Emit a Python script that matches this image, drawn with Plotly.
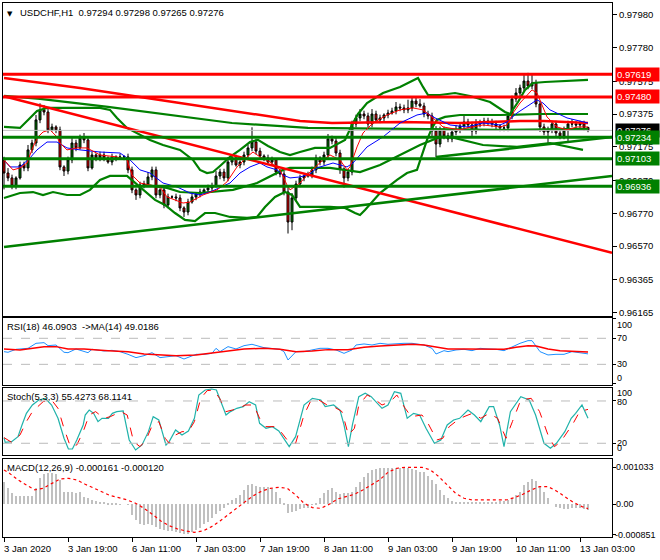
import plotly.graph_objects as go

# ---------------- price data (H1 bars, bar 0 = 3 Jan 2020 03:00) ----------------
first_open = 0.97095
closes = [
    0.97016, 0.96986, 0.96937, 0.96986, 0.97065, 0.97047, 0.97157, 0.97199, 0.97340, 0.97401,
    0.97388, 0.97279, 0.97297, 0.97279, 0.97053, 0.97028, 0.97096, 0.97199, 0.97169, 0.97230,
    0.97218, 0.97047, 0.97126, 0.97108, 0.97126, 0.97108, 0.97083, 0.97114, 0.97108, 0.97114,
    0.97114, 0.97035, 0.96913, 0.96882, 0.96943, 0.96949, 0.96992, 0.97035, 0.96882, 0.96913,
    0.96821, 0.96870, 0.96870, 0.96864, 0.96803, 0.96778, 0.96839, 0.96870, 0.96888, 0.96900,
    0.96913, 0.96925, 0.96937, 0.96998, 0.97022, 0.96986, 0.97083, 0.97108, 0.97065, 0.97083,
    0.97126, 0.97169, 0.97205, 0.97150, 0.97120, 0.97108, 0.97083, 0.97096, 0.97022, 0.97010,
    0.96900, 0.96717, 0.96864, 0.96949, 0.96986, 0.96998, 0.97004, 0.97035, 0.97108, 0.97083,
    0.97126, 0.97224, 0.97211, 0.97138, 0.97041, 0.96986, 0.97022, 0.97315, 0.97352, 0.97376,
    0.97364, 0.97315, 0.97376, 0.97340, 0.97352, 0.97370, 0.97382, 0.97394, 0.97419, 0.97413,
    0.97401, 0.97413, 0.97455, 0.97437, 0.97425, 0.97376, 0.97364, 0.97272, 0.97193, 0.97279,
    0.97242, 0.97224, 0.97266, 0.97279, 0.97303, 0.97327, 0.97309, 0.97272, 0.97315, 0.97321,
    0.97333, 0.97327, 0.97315, 0.97303, 0.97291, 0.97291, 0.97364, 0.97468, 0.97504, 0.97535,
    0.97577, 0.97547, 0.97565, 0.97437, 0.97297, 0.97266, 0.97279, 0.97315, 0.97260, 0.97242,
    0.97279, 0.97315, 0.97315, 0.97309, 0.97315, 0.97294, 0.97276,
]
upper_wick_pips = [
    2, 3, 2, 1, 2, 2, 3, 2, 3, 4,
    3, 2, 2, 1, 2, 1, 2, 3, 2, 2,
    3, 2, 2, 1, 2, 2, 1, 2, 1, 2,
    1, 2, 2, 1, 2, 2, 3, 2, 2, 1,
    2, 2, 1, 2, 2, 1, 2, 2, 1, 2,
    1, 2, 2, 3, 2, 2, 3, 2, 2, 1,
    2, 2, 9, 2, 2, 1, 2, 2, 1, 2,
    2, 3, 3, 2, 2, 1, 2, 2, 2, 1,
    2, 3, 2, 2, 2, 1, 2, 2, 2, 3,
    2, 2, 3, 2, 2, 1, 2, 2, 3, 2,
    2, 5, 2, 2, 3, 2, 2, 2, 3, 2,
    2, 2, 2, 3, 2, 4, 2, 2, 3, 2,
    2, 2, 2, 2, 1, 2, 2, 2, 3, 2,
    4, 5, 5, 2, 2, 2, 2, 2, 2, 2,
    2, 2, 3, 2, 2, 2, 0.4,
]
lower_wick_pips = [
    10, 2, 2, 2, 1, 2, 2, 2, 2, 2,
    2, 2, 1, 2, 2, 3, 2, 2, 2, 1,
    2, 2, 1, 2, 2, 2, 1, 2, 2, 1,
    2, 2, 2, 3, 2, 2, 1, 2, 2, 2,
    2, 2, 1, 2, 2, 3, 2, 1, 2, 2,
    1, 2, 2, 1, 2, 2, 2, 2, 1, 2,
    2, 2, 2, 2, 2, 2, 1, 2, 2, 2,
    2, 7, 5, 2, 2, 2, 1, 2, 2, 2,
    2, 2, 2, 2, 3, 6, 2, 2, 2, 2,
    2, 2, 2, 1, 2, 2, 2, 1, 2, 2,
    2, 2, 2, 2, 1, 2, 2, 3, 8, 2,
    2, 2, 2, 2, 2, 2, 2, 3, 2, 2,
    2, 2, 2, 2, 2, 2, 2, 2, 2, 2,
    2, 2, 2, 2, 3, 2, 7, 2, 2, 2,
    2, 8, 2, 2, 2, 2, 1.1,
]

# ---------------- main-chart indicator lines (bar index, price) ----------------
ma_slow_bars = [0, 19, 39, 56, 74, 82, 99, 114, 129, 135, 146]
ma_slow_vals = [0.97596, 0.97535, 0.97462, 0.97401, 0.97333, 0.97321, 0.97327, 0.97321, 0.97333, 0.97333, 0.97321]

band_long_bars = [0, 9, 26, 41, 57, 76, 99, 124, 146]
band_long_vals = [0.97486, 0.97468, 0.97419, 0.97370, 0.97321, 0.97291, 0.97285, 0.97279, 0.97285]

bb_up_bars = [0, 4, 6.5, 8.25, 10.75, 19, 24, 26.5, 28.25, 30.75, 34, 36.5, 39.75, 44, 47.25, 49, 50.75,
              52.25, 54, 56.5, 59, 61.5, 63.5, 66, 69, 71.5, 74, 77.75, 81.5, 85.25, 87, 88.5, 90.75,
              94.75, 99, 102.25, 103.5, 104.75, 106, 109, 112.75, 116.5, 121.5, 125.25, 126.5, 128.5,
              130.25, 132.25, 135.25, 146]
bb_up_vals = [0.97297, 0.97291, 0.97352, 0.97394, 0.97413, 0.97413, 0.97413, 0.97401, 0.97352, 0.97291,
              0.97248, 0.97218, 0.97187, 0.97157, 0.97096, 0.97035, 0.97016, 0.97022, 0.97059, 0.97114,
              0.97157, 0.97205, 0.97218, 0.97181, 0.97144, 0.97126, 0.97144, 0.97169, 0.97169, 0.97218,
              0.97309, 0.97376, 0.97443, 0.97504, 0.97541, 0.97584, 0.97596, 0.97541, 0.97492, 0.97492,
              0.97504, 0.97486, 0.97449, 0.97388, 0.97376, 0.97449, 0.97523, 0.97565, 0.97571, 0.97584]

bb_low_bars = [0, 4, 7.25, 9.75, 12.25, 15.75, 19, 21.5, 24, 26.5, 30.75, 32.75, 35.25, 37.75, 40.25,
               42.75, 45.25, 47.75, 50.25, 52.75, 56.5, 60.75, 63.25, 65.25, 67.75, 70.25, 72, 74, 81.5,
               85.25, 87.75, 89, 90.25, 94, 98.25, 100.75, 103.25, 104.5, 105.75, 107, 108.25, 110.25,
               114, 124, 134, 146]
bb_low_vals = [0.96864, 0.96894, 0.96900, 0.96882, 0.96900, 0.96882, 0.96882, 0.96913, 0.96974, 0.96998,
               0.96998, 0.96955, 0.96900, 0.96852, 0.96821, 0.96772, 0.96730, 0.96723, 0.96772, 0.96772,
               0.96748, 0.96742, 0.96748, 0.96809, 0.96870, 0.96900, 0.96882, 0.96809, 0.96809, 0.96803,
               0.96772, 0.96760, 0.96791, 0.96894, 0.96974, 0.97016, 0.97035, 0.97126, 0.97218, 0.97291,
               0.97340, 0.97358, 0.97370, 0.97370, 0.97376, 0.97376]

bb_in_bars = [35.25, 40.75, 44, 49, 57.25, 63.25, 69.75, 71.5, 81.5, 85.25, 89, 94, 99, 104, 109, 111.5,
              119.75, 128.25, 132.25, 136.5, 144.75]
bb_in_vals = [0.96943, 0.96925, 0.96900, 0.96894, 0.96913, 0.96955, 0.97035, 0.97047, 0.97047, 0.97035,
              0.97022, 0.97065, 0.97126, 0.97187, 0.97236, 0.97236, 0.97187, 0.97175, 0.97187, 0.97199,
              0.97157]

ma_fast_bars = [0, 0.75, 2.25, 4, 5.75, 7.25, 8.5, 9.75, 11.5, 13.25, 14, 15.75, 18.25, 20.75, 24, 28.25,
                30.75, 32, 34, 36.5, 39, 40.75, 44.75, 46.5, 49.75, 53.25, 55.75, 58.25, 60.75, 62.25, 64,
                66.5, 69, 70.75, 71.5, 74, 76.5, 79.75, 81.5, 84, 85.75, 86.5, 88.25, 89.75, 92.25, 95.75,
                99, 102.25, 104.75, 107.25, 109.75, 114, 115.75, 119.75, 124, 125.75, 127.25, 129, 130.75,
                132, 133.25, 134, 135.75, 138.25, 140.75, 143.25, 146]
ma_fast_vals = [0.97096, 0.97077, 0.97035, 0.97047, 0.97077, 0.97175, 0.97236, 0.97266, 0.97279, 0.97236,
                0.97199, 0.97157, 0.97169, 0.97169, 0.97126, 0.97114, 0.97096, 0.97004, 0.96955, 0.96943,
                0.96931, 0.96870, 0.96833, 0.96839, 0.96882, 0.96913, 0.96962, 0.97053, 0.97114, 0.97144,
                0.97114, 0.97083, 0.97035, 0.96943, 0.96913, 0.96955, 0.97022, 0.97096, 0.97126, 0.97096,
                0.97035, 0.97053, 0.97175, 0.97260, 0.97321, 0.97370, 0.97401, 0.97413, 0.97401, 0.97352,
                0.97297, 0.97279, 0.97291, 0.97309, 0.97297, 0.97309, 0.97382, 0.97443, 0.97492, 0.97523,
                0.97504, 0.97462, 0.97358, 0.97297, 0.97279, 0.97297, 0.97297]

ma_mid_bars = [0, 1.5, 4, 6.5, 8.25, 10.75, 13.25, 15.75, 19, 24, 29, 31.5, 34, 36.5, 39.75, 43.25, 46.5,
               49, 51.5, 54, 56.5, 59, 61.5, 64, 65.75, 68.25, 69.75, 71.5, 74, 76.5, 78.25, 82.25, 85.75,
               87.25, 90.75, 94.75, 99, 103.25, 105.75, 107.25, 111.5, 115.75, 119.75, 124, 125.75, 128.25,
               131.5, 133.25, 134.75, 136.5, 140.75, 144.75, 146]
ma_mid_vals = [0.97096, 0.97053, 0.97053, 0.97108, 0.97157, 0.97205, 0.97205, 0.97169, 0.97157, 0.97144,
               0.97138, 0.97096, 0.97035, 0.97016, 0.96955, 0.96931, 0.96894, 0.96882, 0.96900, 0.96925,
               0.96955, 0.97016, 0.97053, 0.97077, 0.97053, 0.97035, 0.97004, 0.96986, 0.96992, 0.97010,
               0.97047, 0.97077, 0.97053, 0.97077, 0.97175, 0.97236, 0.97321, 0.97370, 0.97382, 0.97358,
               0.97309, 0.97297, 0.97321, 0.97309, 0.97327, 0.97382, 0.97431, 0.97462, 0.97443, 0.97401,
               0.97352, 0.97327, 0.97321]

red_trend_bars = [0, 152]
red_trend_vals = [0.97484, 0.96529]
green_trend_bars = [0, 152]
green_trend_vals = [0.96565, 0.96998]
green_trend2_bars = [108, 152]
green_trend2_vals = [0.97113, 0.97236]

red_levels = [0.97619, 0.97480]
green_levels = [0.97234, 0.97103, 0.96936]
bid_price = 0.97276

price_ticks = [0.97980, 0.97780, 0.97575, 0.97375, 0.97175, 0.96970, 0.96770, 0.96570, 0.96365, 0.96165]

# ---------------- RSI ----------------
rsi_bars = [0, 1, 3, 6, 8, 10, 11, 13, 15, 16, 18, 19, 21, 22, 25, 27, 29, 31, 33, 35, 37, 39, 41, 43, 45,
            46, 48, 50, 52, 53, 54, 56, 58, 60, 62, 65, 67, 69, 70, 71, 73, 75, 77, 79, 81, 83, 85, 87, 88,
            90, 92, 94, 96, 98, 100, 102, 105, 107, 108, 110, 111, 113, 115, 117, 119, 121, 123, 125, 127,
            129, 131, 132, 134, 136, 138, 140, 142, 145, 146]
rsi_vals = [49.5, 48.5, 53.1, 54.6, 62.3, 63.3, 58.7, 59.7, 48.5, 47.9, 53.6, 52.1, 47.9, 53.1, 50.5, 51.5,
            49.5, 45.4, 40.3, 43.3, 47.9, 40.3, 41.8, 43.3, 38.2, 40.3, 45.4, 45.4, 46.9, 54.6, 49.5, 57.2,
            53.6, 58.7, 60.8, 55.6, 54.6, 53.1, 49.5, 36.7, 49.5, 49.5, 52.1, 54.6, 54.6, 52.1, 46.9, 52.1,
            59.7, 61.3, 59.7, 62.3, 60.8, 61.8, 62.3, 62.3, 59.7, 54.6, 45.9, 51.0, 49.5, 52.1, 53.1, 51.0,
            54.6, 53.6, 53.1, 51.0, 57.2, 62.3, 66.4, 66.4, 49.5, 44.4, 45.4, 45.4, 49.5, 46.9, 46.09]
rsi_ma_bars = [0, 4, 10, 13, 16, 20, 26, 31, 35, 39, 43, 48, 52, 56, 60, 65, 69, 73, 77, 81, 86, 90, 94, 98,
               102, 105, 108, 111, 115, 120, 125, 128, 131, 133, 136, 139, 142, 146]
rsi_ma_vals = [53.6, 52.1, 57.2, 57.2, 53.6, 53.6, 51.0, 49.5, 45.9, 44.4, 43.3, 44.4, 46.9, 50.5, 53.6, 54.6,
               53.1, 49.5, 50.5, 52.6, 52.6, 56.2, 58.2, 59.7, 60.8, 59.7, 56.2, 53.6, 53.6, 53.1, 53.1, 56.2,
               58.7, 58.2, 53.6, 51.0, 50.5, 49.02]

# ---------------- Stochastic ----------------
stoch_bars = [0, 0.3, 1.9, 3.5, 4.5, 5.6, 7.1, 8.7, 10.3, 11.9, 13.5, 15.0, 16.1, 17.1, 18.2, 19.8, 20.3,
              21.3, 22.4, 23.5, 24.5, 26.1, 27.1, 28.2, 29.8, 31.3, 32.9, 34.5, 36.1, 37.3, 38.7, 39.8,
              40.5, 41.3, 42.9, 44.5, 46.1, 47.6, 48.7, 50.3, 51.9, 53.1, 54.5, 55.5, 56.6, 58.2, 59.8,
              61.3, 62.9, 63.9, 65.5, 67.1, 68.7, 69.7, 71.3, 72.9, 75.0, 77.1, 79.2, 80.3, 82.4, 84.0,
              85.0, 86.1, 87.1, 88.7, 90.3, 91.8, 94.5, 96.0, 97.6, 99.2, 100.8, 102.4, 103.9, 105.5,
              107.6, 109.2, 110.8, 112.4, 113.9, 116.0, 117.6, 119.2, 121.3, 122.4, 123.9, 125.0, 126.6,
              129.2, 131.3, 132.9, 135.0, 136.6, 138.1, 140.2, 141.8, 142.9, 144.5, 146.0]
stoch_vals = [28.0, 21.4, 22.3, 29.4, 46.0, 62.5, 74.3, 81.4, 83.8, 74.3, 55.4, 27.1, 11.9, 11.9, 24.7,
              46.0, 60.1, 67.2, 62.5, 50.7, 55.4, 55.4, 62.5, 64.9, 65.8, 24.7, 10.5, 17.6, 36.5, 57.8,
              53.1, 31.8, 17.6, 22.3, 38.9, 31.8, 37.4, 55.4, 88.5, 95.6, 97.0, 95.6, 74.3, 60.1, 64.9,
              69.6, 72.0, 79.1, 74.3, 48.3, 41.2, 43.6, 37.4, 29.4, 15.2, 29.4, 74.3, 83.8, 81.4, 72.0,
              74.3, 67.2, 46.0, 15.2, 46.0, 86.2, 90.9, 86.2, 69.6, 74.3, 93.2, 90.9, 55.4, 62.5, 60.1,
              41.2, 20.0, 24.7, 46.0, 53.1, 55.4, 67.2, 60.1, 50.7, 72.0, 72.0, 46.0, 15.2, 64.9, 86.2,
              81.4, 60.1, 20.0, 12.9, 20.0, 36.5, 55.4, 62.5, 74.3, 55.43]
stoch_sig_bars = [0, 1.9, 4.0, 5.6, 7.1, 9.8, 11.9, 13.5, 15.0, 16.6, 18.2, 19.8, 21.3, 22.9, 25.0, 26.6,
                  29.2, 30.8, 32.4, 34.0, 35.5, 37.1, 38.7, 40.3, 41.3, 42.9, 44.5, 46.1, 47.6, 49.2, 50.8,
                  52.4, 53.9, 55.5, 57.1, 58.7, 60.3, 62.4, 63.9, 65.5, 67.6, 69.2, 70.8, 72.9, 75.0, 76.6,
                  78.7, 80.8, 82.4, 84.5, 86.1, 87.6, 88.7, 90.8, 92.4, 94.5, 96.6, 98.2, 100.3, 101.8,
                  104.5, 106.0, 108.2, 109.7, 111.3, 112.9, 115.0, 117.1, 119.2, 121.3, 123.4, 125.5, 127.1,
                  129.2, 131.8, 133.9, 136.0, 137.6, 139.2, 140.8, 142.3, 143.9, 146.0]
stoch_sig_vals = [28.0, 21.4, 31.8, 50.7, 64.9, 79.1, 81.4, 69.6, 41.2, 15.2, 17.6, 36.5, 60.1, 64.9, 55.4,
                  57.8, 64.9, 60.1, 22.3, 15.2, 24.7, 46.0, 50.7, 27.1, 20.0, 31.8, 36.5, 36.5, 50.7, 83.8,
                  94.7, 95.6, 83.8, 64.9, 67.2, 69.6, 74.3, 74.3, 55.4, 43.6, 43.6, 36.5, 24.7, 20.0, 60.1,
                  79.1, 81.4, 74.3, 72.0, 64.9, 31.8, 41.2, 74.3, 88.5, 83.8, 74.3, 79.1, 88.5, 69.6, 57.8,
                  60.1, 48.3, 24.7, 27.1, 43.6, 50.7, 57.8, 62.5, 55.4, 62.5, 55.4, 27.1, 50.7, 81.4, 83.8,
                  64.9, 31.8, 15.2, 22.3, 36.5, 48.3, 64.9, 68.11]

# ---------------- MACD ----------------
macd_hist = [
    0.000633, 0.000447, 0.000307, 0.000242, 0.000242, 0.000242, 0.000242, 0.000242, 0.000447, 0.000745,
    0.000838, 0.000866, 0.000866, 0.000838, 0.000680, 0.000354, 0.000335, 0.000335, 0.000307, 0.000335,
    0.000214, 0.000168, 0.000121, 0.000093, 0.000075, 0.000056, 0.000028, 0.000019, 0.000009, 0.000005,
    0.000000, -0.000019, -0.000298, -0.000437, -0.000559, -0.000577, -0.000559, -0.000577, -0.000624, -0.000689,
    -0.000717, -0.000745, -0.000745, -0.000782, -0.000800, -0.000829, -0.000838, -0.000782, -0.000717, -0.000652,
    -0.000559, -0.000484, -0.000391, -0.000279, -0.000186, -0.000112, 0.000028, 0.000121, 0.000168, 0.000261,
    0.000400, 0.000540, 0.000559, 0.000521, 0.000493, 0.000493, 0.000493, 0.000447, 0.000354, 0.000168,
    0.000028, -0.000251, -0.000223, -0.000186, -0.000140, -0.000112, -0.000093, -0.000019, 0.000028, 0.000168,
    0.000307, 0.000400, 0.000447, 0.000354, 0.000279, 0.000307, 0.000307, 0.000354, 0.000493, 0.000633,
    0.000773, 0.000866, 0.000959, 0.000987, 0.001005, 0.001024, 0.001024, 0.001024, 0.001024, 0.001005,
    0.001005, 0.001005, 0.000987, 0.000959, 0.000894, 0.000894, 0.000801, 0.000680, 0.000559, 0.000400,
    0.000261, 0.000186, 0.000093, 0.000075, 0.000075, 0.000075, 0.000075, 0.000075, 0.000075, 0.000075,
    0.000075, 0.000075, 0.000075, 0.000075, 0.000093, 0.000093, 0.000121, 0.000168, 0.000261, 0.000354,
    0.000540, 0.000633, 0.000708, 0.000652, 0.000493, 0.000354, 0.000168, 0.000000, -0.000065, -0.000112,
    -0.000130, -0.000130, -0.000093, -0.000112, -0.000112, -0.000130, -0.000161,
]
macd_sig_bars = [0, 1.35, 3.5, 5.6, 7.7, 9.8, 11.9, 14, 16.1, 18.2, 20.3, 22.4, 24.5, 26.6, 28.7, 30.8,
                 32.9, 35, 37.1, 39.2, 41.3, 43.4, 45.5, 47.6, 49.75, 51.9, 54, 56.1, 58.2, 60.3, 62.4,
                 64.5, 66.6, 68.7, 70.8, 72.9, 75, 77.1, 79.2, 81.3, 83.4, 85.5, 87.6, 89.7, 91.8, 93.9,
                 96, 98.2, 100.3, 102.4, 104.5, 106.6, 108.7, 110.8, 112.9, 115, 117.1, 119.2, 121.3,
                 123.4, 125.5, 127.6, 129.7, 131.8, 133.9, 136, 138.1, 140.2, 142.3, 144.5, 146]
macd_sig_vals = [0.000959, 0.000866, 0.000680, 0.000540, 0.000400, 0.000447, 0.000587, 0.000708, 0.000726,
                 0.000680, 0.000559, 0.000447, 0.000335, 0.000242, 0.000186, 0.000121, 0.000028, -0.000112,
                 -0.000279, -0.000466, -0.000596, -0.000689, -0.000745, -0.000782, -0.000745, -0.000624,
                 -0.000466, -0.000279, -0.000112, 0.000074, 0.000242, 0.000372, 0.000447, 0.000475,
                 0.000447, 0.000261, 0.000028, -0.000093, -0.000112, 0.000000, 0.000149, 0.000223,
                 0.000279, 0.000400, 0.000540, 0.000680, 0.000894, 0.001005, 0.001033, 0.001033,
                 0.001033, 0.000959, 0.000773, 0.000540, 0.000307, 0.000168, 0.000121, 0.000121,
                 0.000121, 0.000121, 0.000121, 0.000186, 0.000279, 0.000400, 0.000493, 0.000493,
                 0.000372, 0.000214, 0.000056, -0.000065, -0.000120]

tick_bars = [0, 16, 32, 48, 64, 80, 96, 112, 128, 144]
tick_labels = ["3 Jan 2020", "3 Jan 19:00", "6 Jan 11:00", "7 Jan 03:00", "7 Jan 19:00",
               "8 Jan 11:00", "9 Jan 03:00", "9 Jan 19:00", "10 Jan 11:00", "13 Jan 03:00"]

# ---------------- build ----------------
bars = list(range(len(closes)))
opens = [first_open] + closes[:-1]
highs = [max(o, c) + w * 0.0001 for o, c, w in zip(opens, closes, upper_wick_pips)]
lows = [min(o, c) - w * 0.0001 for o, c, w in zip(opens, closes, lower_wick_pips)]

RED = "#FF0000"
GREEN = "#008000"
FONT = "Liberation Sans"
FS = 9.5

fig = go.Figure()


def line(xv, yv, color, width, axis="", dash="solid"):
    fig.add_trace(go.Scatter(x=xv, y=yv, mode="lines", line=dict(color=color, width=width, dash=dash),
                             xaxis="x" + axis, yaxis="y" + axis, hoverinfo="skip", showlegend=False))


fig.add_trace(go.Candlestick(
    x=bars, open=opens, high=highs, low=lows, close=closes,
    increasing=dict(line=dict(color="black", width=1), fillcolor=GREEN),
    decreasing=dict(line=dict(color="black", width=1), fillcolor=RED),
    whiskerwidth=0, hoverinfo="skip", showlegend=False, xaxis="x", yaxis="y"))

line(band_long_bars, band_long_vals, GREEN, 2.2)
line(bb_up_bars, bb_up_vals, GREEN, 2.2)
line(bb_low_bars, bb_low_vals, GREEN, 2.2)
line(bb_in_bars, bb_in_vals, GREEN, 2.2)
line(ma_slow_bars, ma_slow_vals, RED, 2.5)
line(ma_mid_bars, ma_mid_vals, "#0000FF", 1)
line(ma_fast_bars, ma_fast_vals, RED, 1)
line(red_trend_bars, red_trend_vals, RED, 2.5)
line(green_trend_bars, green_trend_vals, GREEN, 2.5)
line(green_trend2_bars, green_trend2_vals, GREEN, 2.5)

shapes = []
shapes.append(dict(type="line", xref="x domain", x0=0, x1=1, yref="y", y0=bid_price, y1=bid_price,
                   line=dict(color="#C0C0C0", width=1)))
for lv in red_levels:
    shapes.append(dict(type="line", xref="x domain", x0=0, x1=1, yref="y", y0=lv, y1=lv,
                       line=dict(color=RED, width=3)))
for lv in green_levels:
    shapes.append(dict(type="line", xref="x domain", x0=0, x1=1, yref="y", y0=lv, y1=lv,
                       line=dict(color=GREEN, width=3)))
for lv in (70, 30):
    shapes.append(dict(type="line", xref="x2 domain", x0=0, x1=1, yref="y2", y0=lv, y1=lv,
                       line=dict(color="#BBBBBB", width=1, dash="dash")))
for lv in (80, 20):
    shapes.append(dict(type="line", xref="x3 domain", x0=0, x1=1, yref="y3", y0=lv, y1=lv,
                       line=dict(color="#BBBBBB", width=1, dash="dash")))

# RSI
line(rsi_bars, rsi_vals, "#1E90FF", 1, "2")
line(rsi_ma_bars, rsi_ma_vals, RED, 1.5, "2")
# Stochastic
line(stoch_bars, stoch_vals, "#20B2AA", 1.2, "3")
line(stoch_sig_bars, stoch_sig_vals, RED, 1, "3", dash="dash")
# MACD
fig.add_trace(go.Bar(x=bars, y=macd_hist, marker=dict(color="#C0C0C0", line=dict(width=0)), width=0.3,
                     xaxis="x4", yaxis="y4", hoverinfo="skip", showlegend=False))
line(macd_sig_bars, macd_sig_vals, RED, 1.2, "4", dash="dot")

xr = [-0.25, 152]
ax_common = dict(range=xr, showgrid=False, zeroline=False, showline=True, mirror=True,
                 linecolor="black", linewidth=1, fixedrange=True, automargin=False)
ycommon = dict(showgrid=False, zeroline=False, showline=True, mirror=True, linecolor="black",
               linewidth=1, side="right", fixedrange=True, automargin=False)

annotations = []


def ann(text, x, y, xref, yref, **kw):
    d = dict(text=text, x=x, y=y, xref=xref, yref=yref, showarrow=False,
             font=dict(family=FONT, size=FS, color="black"))
    d.update(kw)
    annotations.append(d)


# headers
ann("▼", 0.004, 0.997, "paper", "paper", xanchor="left", yanchor="top", font=dict(family="DejaVu Sans", size=7, color="black"), yshift=-3)
ann("USDCHF,H1  0.97294 0.97298 0.97265 0.97276", 0.024, 0.997, "paper", "paper", xanchor="left", yanchor="top")
ann("RSI(18) 46.0903  -&gt;MA(14) 49.0186", 0.004, 0.4101, "paper", "paper", xanchor="left", yanchor="top", yshift=-1)
ann("Stoch(5,3,3) 55.4273 68.1141", 0.004, 0.2790, "paper", "paper", xanchor="left", yanchor="top", yshift=-1)
ann("MACD(12,26,9) -0.000161 -0.000120", 0.004, 0.1461, "paper", "paper", xanchor="left", yanchor="top", yshift=-1)

# price level boxes
ann("0.97276", 1, bid_price, "paper", "y", xanchor="left", xshift=3, bgcolor="black", width=41,
    align="left", font=dict(family=FONT, size=FS, color="white"), borderpad=1)
for lv in red_levels:
    ann("%.5f" % lv, 1, lv, "paper", "y", xanchor="left", xshift=3, bgcolor=RED, width=41,
        align="left", font=dict(family=FONT, size=FS, color="white"), borderpad=1)
for lv in green_levels:
    ann("%.5f" % lv, 1, lv, "paper", "y", xanchor="left", xshift=3, bgcolor=GREEN, width=41,
        align="left", font=dict(family=FONT, size=FS, color="white"), borderpad=1)

# lower panel scale labels
SF = dict(family=FONT, size=9, color="black")
ann("100", 1, 101.2, "paper", "y2", xanchor="left", yanchor="top", xshift=3, font=SF)
ann("70", 1, 70, "paper", "y2", xanchor="left", xshift=3, font=SF)
ann("30", 1, 30, "paper", "y2", xanchor="left", xshift=3, font=SF)
ann("0", 1, -1.8, "paper", "y2", xanchor="left", yanchor="bottom", xshift=3, font=SF)
ann("100", 1, 98.4, "paper", "y3", xanchor="left", yanchor="top", xshift=3, yshift=2, font=SF)
ann("80", 1, 80, "paper", "y3", xanchor="left", xshift=3, yshift=-1, font=SF)
ann("20", 1, 20, "paper", "y3", xanchor="left", xshift=3, font=SF)
ann("0", 1, 3.4, "paper", "y3", xanchor="left", yanchor="bottom", xshift=3, font=SF)
ann("0.001033", 1, 0.001033, "paper", "y4", xanchor="left", xshift=2, font=SF)
ann("0.00", 1, 0, "paper", "y4", xanchor="left", xshift=2, font=SF)
ann("-0.000851", 1, -0.000851, "paper", "y4", xanchor="left", xshift=1, font=SF)

# time labels
for b, t in zip(tick_bars, tick_labels):
    ann(t, b, 0, "x4", "paper", xanchor="left", yanchor="top", xshift=-2, yshift=-4)

fig.update_layout(
    width=660, height=560,
    margin=dict(l=3, r=48, t=3, b=23, autoexpand=False),
    paper_bgcolor="white", plot_bgcolor="white",
    showlegend=False, bargap=0,
    font=dict(family=FONT, size=FS, color="black"),
    xaxis=dict(ax_common, anchor="y", showticklabels=False, ticks="", rangeslider=dict(visible=False)),
    xaxis2=dict(ax_common, anchor="y2", showticklabels=False, ticks=""),
    xaxis3=dict(ax_common, anchor="y3", showticklabels=False, ticks=""),
    xaxis4=dict(ax_common, anchor="y4", showticklabels=False, ticks="outside", ticklen=4,
                tickvals=tick_bars, tickcolor="black"),
    yaxis=dict(ycommon, domain=[0.4139, 1.0], anchor="x", range=[0.96144, 0.98053],
               tickvals=price_ticks, ticktext=["%.5f" % v for v in price_ticks],
               ticks="outside", ticklen=4, tickcolor="black",
               tickfont=dict(family=FONT, size=FS, color="black")),
    yaxis2=dict(ycommon, domain=[0.2846, 0.4101], anchor="x2", range=[-1.8, 101.2],
                tickvals=[100, 70, 30, 0], showticklabels=False, ticks="outside", ticklen=3, tickcolor="black"),
    yaxis3=dict(ycommon, domain=[0.1536, 0.2790], anchor="x3", range=[3.4, 98.4],
                tickvals=[80, 20], showticklabels=False, ticks="outside", ticklen=3, tickcolor="black"),
    yaxis4=dict(ycommon, domain=[0.0, 0.1461], anchor="x4", range=[-0.000913, 0.001265],
                tickvals=[0.001033, 0, -0.000851], showticklabels=False, ticks="outside", ticklen=3,
                tickcolor="black"),
    shapes=shapes,
    annotations=annotations,
)

fig.write_html("out.html", config={"displayModeBar": False},
               post_script="document.body.style.margin='0';document.body.style.padding='0';")
